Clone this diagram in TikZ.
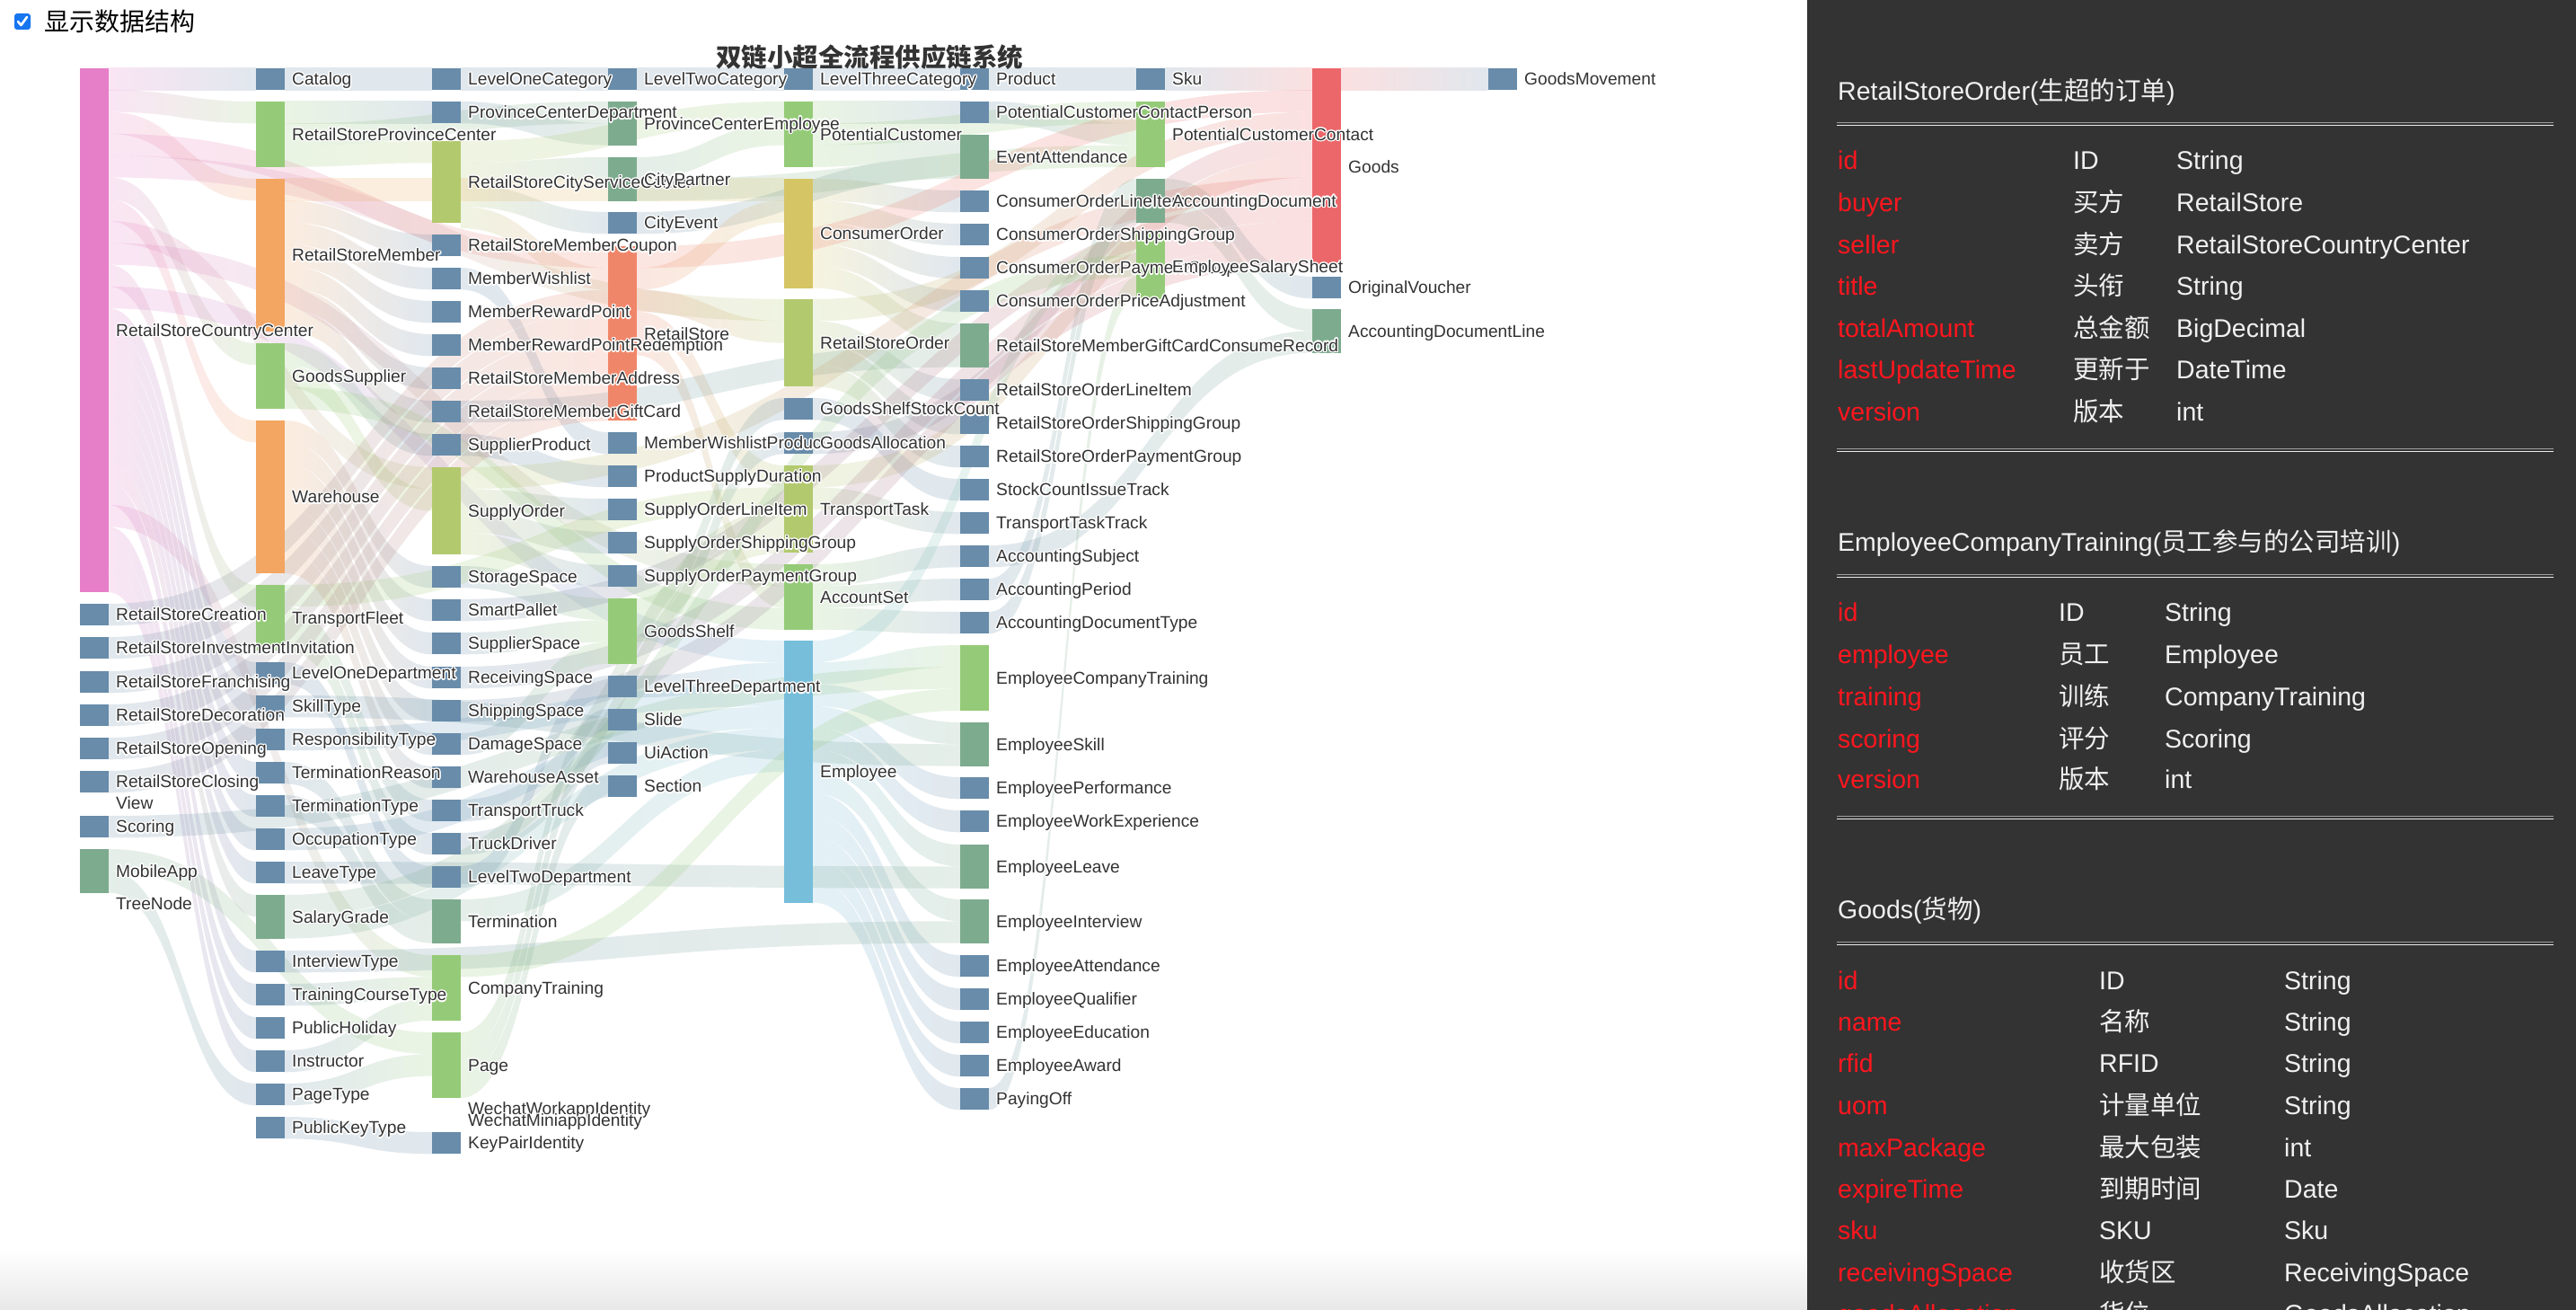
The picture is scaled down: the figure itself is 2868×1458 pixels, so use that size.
\documentclass[tikz,border=0pt]{standalone}
\usepackage{fontspec}
\setmainfont{Liberation Sans}
\newfontfamily\cjk{Noto Sans CJK SC}
\usepackage{contour}
\contourlength{1.3pt}
\usetikzlibrary{calc}
\pgfdeclarelayer{bg}
\pgfdeclarelayer{flows}
\pgfdeclarelayer{front}
\pgfsetlayers{bg,flows,main,front}
\definecolor{nodeblue}{RGB}{104,140,170}
\definecolor{nodeteal}{RGB}{125,171,142}
\definecolor{nodegreen}{RGB}{149,203,120}
\definecolor{nodeolive}{RGB}{179,201,110}
\definecolor{nodeyellow}{RGB}{213,197,101}
\definecolor{nodeorange}{RGB}{243,165,98}
\definecolor{nodecoral}{RGB}{240,134,105}
\definecolor{nodered}{RGB}{236,103,106}
\definecolor{nodesky}{RGB}{118,190,218}
\definecolor{nodepink}{RGB}{230,126,200}
\definecolor{labtext}{RGB}{51,51,51}
\definecolor{panelbg}{RGB}{51,51,51}
\definecolor{fieldred}{RGB}{255,22,30}
\definecolor{paneltext}{RGB}{240,240,240}
\definecolor{checkblue}{RGB}{22,118,240}
\tikzset{
  % sankey boxes and labels
  entbox/.style   = {rectangle, anchor=north west, inner sep=0pt, outer sep=0pt,
                     minimum width=32pt, draw=none},
  entlab/.style   = {anchor=base west, inner sep=0pt, text=labtext,
                     font=\fontsize{19.2}{22}\selectfont},
  flowband/.style = {fill opacity=0.2, draw=none},
  % title and checkbox
  titlelab/.style = {anchor=base, inner sep=0pt, text=labtext,
                     font=\cjk\bfseries\fontsize{28.5}{30}\selectfont},
  checkbox/.style = {rectangle, rounded corners=3pt, fill=checkblue,
                     minimum size=18pt, inner sep=0pt},
  % data panel
  panelhead/.style = {anchor=base west, inner sep=0pt, text=paneltext,
                      font=\fontsize{28.5}{30}\selectfont},
  fieldname/.style = {anchor=base west, inner sep=0pt, text=fieldred,
                      font=\fontsize{28.5}{30}\selectfont},
  fieldinfo/.style = {anchor=base west, inner sep=0pt, text=paneltext,
                      font=\fontsize{28.5}{30}\selectfont},
}
% node colour by size
\newcommand\ucol[2]{\expandafter\def\csname ucol@#1\endcsname{#2}}
\ucol{1}{nodeblue}\ucol{2}{nodeteal}\ucol{3}{nodegreen}\ucol{4}{nodeolive}
\ucol{5}{nodeyellow}\ucol{7}{nodeorange}\ucol{8}{nodecoral}\ucol{9}{nodered}
\ucol{12}{nodesky}\ucol{24}{nodepink}
\def\flowu{24.3}
% \ent[height]{name}{x}{top}{units}{label}
\newcommand\ent[6][]{%
  \ifx\relax#1\relax\pgfmathsetmacro\enth{#5==1 ? 24 : #5*\flowu}\else\def\enth{#1}\fi
  \edef\entc{\csname ucol@#5\endcsname}%
  \node[entbox, fill=\entc, minimum height=\enth pt] (#2) at (#3,#4) {};
  \expandafter\xdef\csname fc@#2\endcsname{\entc}%
  \begin{pgfonlayer}{front}
    \node[entlab] (#2-l) at ([xshift=8pt,yshift=-6.9pt]#2.east) {\contour{white}{#6}};
  \end{pgfonlayer}%
}
% \flow{source}{target}
\newcommand\flow[2]{%
  \ifcsname fo@#1\endcsname\else\expandafter\xdef\csname fo@#1\endcsname{0}\fi
  \ifcsname fi@#2\endcsname\else\expandafter\xdef\csname fi@#2\endcsname{0}\fi
  \edef\fso{\csname fo@#1\endcsname}%
  \edef\fti{\csname fi@#2\endcsname}%
  \edef\fcs{\csname fc@#1\endcsname}%
  \edef\fct{\csname fc@#2\endcsname}%
  \path ($(#1.north east)+(0,\fso)$) coordinate (fa)
        ($(#2.north west)+(0,\fti)$) coordinate (fb)
        ($(fa)+(0,\flowu)$) coordinate (fd)
        ($(fb)+(0,\flowu)$) coordinate (fc)
        ($(fa)!.5!(fb)$) coordinate (fm);
  \shade[flowband, left color=\fcs, right color=\fct]
    (fa) .. controls (fm |- fa) and (fm |- fb) .. (fb)
    -- (fc) .. controls (fm |- fc) and (fm |- fd) .. (fd) -- cycle;
  \pgfmathsetmacro\fnew{\fso+\flowu}%
  \expandafter\xdef\csname fo@#1\endcsname{\fnew}%
  \pgfmathsetmacro\fnew{\fti+\flowu}%
  \expandafter\xdef\csname fi@#2\endcsname{\fnew}%
}
% \fieldrow{name}{baseline}{x2}{x3}{field}{label}{type}
\newcommand\fieldrow[7]{%
  \node[fieldname] (#1-f) at (2046,#2) {#5};
  \node[fieldinfo] (#1-z) at (#3,#2) {#6};
  \node[fieldinfo] (#1-t) at (#4,#2) {#7};
}

\begin{document}
\begin{tikzpicture}[x=1pt, y=-1pt]
  \useasboundingbox (0,0) rectangle (2868,1458);
  \begin{pgfonlayer}{bg}
    \fill[white] (0,0) rectangle (2868,1458);
    \shade[top color=white, bottom color=black!9] (0,1390) rectangle (2012,1458);
  \end{pgfonlayer}

  % checkbox and title
  \node[checkbox] (chk) at (25,24) {};
  \draw[white, line width=2.6pt, line cap=round, line join=round]
    ($(chk.center)+(-5,0)$) -- ($(chk.center)+(-1.5,4)$) -- ($(chk.center)+(5,-5)$);
  \node[anchor=base west, inner sep=0pt, font=\cjk\fontsize{28}{30}\selectfont] (showlab) at (49,35) {显示数据结构};
  \node[titlelab] (title) at (968,75) {双链小超全流程供应链系统};

  % column 0
  \ent{rscc}{89}{76}{24}{RetailStoreCountryCenter}
  \ent{rsCreation}{89}{672}{1}{RetailStoreCreation}
  \ent{rsInvest}{89}{709}{1}{RetailStoreInvestmentInvitation}
  \ent{rsFranch}{89}{747}{1}{RetailStoreFranchising}
  \ent{rsDecor}{89}{784}{1}{RetailStoreDecoration}
  \ent{rsOpen}{89}{821}{1}{RetailStoreOpening}
  \ent{rsClose}{89}{858}{1}{RetailStoreClosing}
  \ent{scoring}{89}{908}{1}{Scoring}
  \ent{mobileApp}{89}{945}{2}{MobileApp}
  \begin{pgfonlayer}{front}
    \node[entlab] (view) at (129,900.9) {\contour{white}{View}};
    \node[entlab] (treeNode) at (129,1012.9) {\contour{white}{TreeNode}};
  \end{pgfonlayer}

  % column 1
  \ent{catalog}{285}{76}{1}{Catalog}
  \ent{rspc}{285}{113}{3}{RetailStoreProvinceCenter}
  \ent{rsMember}{285}{199}{7}{RetailStoreMember}
  \ent{goodsSupplier}{285}{382}{3}{GoodsSupplier}
  \ent{warehouse}{285}{468}{7}{Warehouse}
  \ent{transportFleet}{285}{651}{3}{TransportFleet}
  \ent{lvl1Dept}{285}{737}{1}{LevelOneDepartment}
  \ent{skillType}{285}{774}{1}{SkillType}
  \ent{respType}{285}{811}{1}{ResponsibilityType}
  \ent{termReason}{285}{848}{1}{TerminationReason}
  \ent{termType}{285}{885}{1}{TerminationType}
  \ent{occType}{285}{922}{1}{OccupationType}
  \ent{leaveType}{285}{959}{1}{LeaveType}
  \ent{salaryGrade}{285}{996}{2}{SalaryGrade}
  \ent{interviewType}{285}{1058}{1}{InterviewType}
  \ent{courseType}{285}{1095}{1}{TrainingCourseType}
  \ent{publicHoliday}{285}{1132}{1}{PublicHoliday}
  \ent{instructor}{285}{1169}{1}{Instructor}
  \ent{pageType}{285}{1206}{1}{PageType}
  \ent{publicKeyType}{285}{1243}{1}{PublicKeyType}

  % column 2
  \ent{lvl1Cat}{481}{76}{1}{LevelOneCategory}
  \ent{pcDept}{481}{113}{1}{ProvinceCenterDepartment}
  \ent[91]{rscsc}{481}{157}{4}{RetailStoreCityServiceCenter}
  \ent{memberCoupon}{481}{261}{1}{RetailStoreMemberCoupon}
  \ent{memberWishlist}{481}{298}{1}{MemberWishlist}
  \ent{rewardPoint}{481}{335}{1}{MemberRewardPoint}
  \ent{rewardRedeem}{481}{372}{1}{MemberRewardPointRedemption}
  \ent{memberAddress}{481}{409}{1}{RetailStoreMemberAddress}
  \ent{memberGiftCard}{481}{446}{1}{RetailStoreMemberGiftCard}
  \ent{supplierProduct}{481}{483}{1}{SupplierProduct}
  \ent{supplyOrder}{481}{520}{4}{SupplyOrder}
  \ent{storageSpace}{481}{630}{1}{StorageSpace}
  \ent{smartPallet}{481}{667}{1}{SmartPallet}
  \ent{supplierSpace}{481}{704}{1}{SupplierSpace}
  \ent{receivingSpace}{481}{742}{1}{ReceivingSpace}
  \ent{shippingSpace}{481}{779}{1}{ShippingSpace}
  \ent{damageSpace}{481}{816}{1}{DamageSpace}
  \ent{warehouseAsset}{481}{853}{1}{WarehouseAsset}
  \ent{transportTruck}{481}{890}{1}{TransportTruck}
  \ent{truckDriver}{481}{927}{1}{TruckDriver}
  \ent{lvl2Dept}{481}{964}{1}{LevelTwoDepartment}
  \ent{termination}{481}{1001}{2}{Termination}
  \ent{companyTraining}{481}{1063}{3}{CompanyTraining}
  \ent{page}{481}{1149}{3}{Page}
  \begin{pgfonlayer}{front}
    \node[entlab] (wechatWork) at (521,1240.9) {\contour{white}{WechatWorkappIdentity}};
    \node[entlab] (wechatMini) at (521,1253.9) {\contour{white}{WechatMiniappIdentity}};
  \end{pgfonlayer}
  \ent{keyPair}{481}{1260}{1}{KeyPairIdentity}

  % column 3
  \ent{lvl2Cat}{677}{76}{1}{LevelTwoCategory}
  \ent{pcEmployee}{677}{113}{2}{ProvinceCenterEmployee}
  \ent{cityPartner}{677}{175}{2}{CityPartner}
  \ent{cityEvent}{677}{236}{1}{CityEvent}
  \ent{retailStore}{677}{274}{8}{RetailStore}
  \ent{wishlistProduct}{677}{481}{1}{MemberWishlistProduct}
  \ent{supplyDuration}{677}{518}{1}{ProductSupplyDuration}
  \ent{soLineItem}{677}{555}{1}{SupplyOrderLineItem}
  \ent{soShipping}{677}{592}{1}{SupplyOrderShippingGroup}
  \ent{soPayment}{677}{629}{1}{SupplyOrderPaymentGroup}
  \ent{goodsShelf}{677}{666}{3}{GoodsShelf}
  \ent{lvl3Dept}{677}{752}{1}{LevelThreeDepartment}
  \ent{slide}{677}{789}{1}{Slide}
  \ent{uiAction}{677}{826}{1}{UiAction}
  \ent{section}{677}{863}{1}{Section}

  % column 4
  \ent{lvl3Cat}{873}{76}{1}{LevelThreeCategory}
  \ent{potentialCustomer}{873}{113}{3}{PotentialCustomer}
  \ent{consumerOrder}{873}{199}{5}{ConsumerOrder}
  \ent{rsOrder}{873}{333}{4}{RetailStoreOrder}
  \ent{stockCount}{873}{443}{1}{GoodsShelfStockCount}
  \ent{goodsAllocation}{873}{481}{1}{GoodsAllocation}
  \ent{transportTask}{873}{518}{4}{TransportTask}
  \ent{accountSet}{873}{628}{3}{AccountSet}
  \ent{employee}{873}{713}{12}{Employee}

  % column 5
  \ent{product}{1069}{76}{1}{Product}
  \ent{contactPerson}{1069}{113}{1}{PotentialCustomerContactPerson}
  \ent{eventAttendance}{1069}{150}{2}{EventAttendance}
  \ent{coLineItem}{1069}{212}{1}{ConsumerOrderLineItem}
  \ent{coShipping}{1069}{249}{1}{ConsumerOrderShippingGroup}
  \ent{coPayment}{1069}{286}{1}{ConsumerOrderPaymentGroup}
  \ent{coPriceAdj}{1069}{323}{1}{ConsumerOrderPriceAdjustment}
  \ent{giftCardRecord}{1069}{360}{2}{RetailStoreMemberGiftCardConsumeRecord}
  \ent{rsoLineItem}{1069}{422}{1}{RetailStoreOrderLineItem}
  \ent{rsoShipping}{1069}{459}{1}{RetailStoreOrderShippingGroup}
  \ent{rsoPayment}{1069}{496}{1}{RetailStoreOrderPaymentGroup}
  \ent{issueTrack}{1069}{533}{1}{StockCountIssueTrack}
  \ent{taskTrack}{1069}{570}{1}{TransportTaskTrack}
  \ent{accSubject}{1069}{607}{1}{AccountingSubject}
  \ent{accPeriod}{1069}{644}{1}{AccountingPeriod}
  \ent{accDocType}{1069}{681}{1}{AccountingDocumentType}
  \ent{empTraining}{1069}{718}{3}{EmployeeCompanyTraining}
  \ent{empSkill}{1069}{804}{2}{EmployeeSkill}
  \ent{empPerformance}{1069}{865}{1}{EmployeePerformance}
  \ent{empWorkExp}{1069}{902}{1}{EmployeeWorkExperience}
  \ent{empLeave}{1069}{940}{2}{EmployeeLeave}
  \ent{empInterview}{1069}{1001}{2}{EmployeeInterview}
  \ent{empAttendance}{1069}{1063}{1}{EmployeeAttendance}
  \ent{empQualifier}{1069}{1100}{1}{EmployeeQualifier}
  \ent{empEducation}{1069}{1137}{1}{EmployeeEducation}
  \ent{empAward}{1069}{1174}{1}{EmployeeAward}
  \ent{payingOff}{1069}{1211}{1}{PayingOff}

  % columns 6 to 8
  \ent{sku}{1265}{76}{1}{Sku}
  \ent{pcContact}{1265}{113}{3}{PotentialCustomerContact}
  \ent{accDocument}{1265}{199}{2}{AccountingDocument}
  \ent{salarySheet}{1265}{260}{3}{EmployeeSalarySheet}
  \ent{goods}{1461}{76}{9}{Goods}
  \ent{originalVoucher}{1461}{308}{1}{OriginalVoucher}
  \ent{accDocLine}{1461}{344}{2}{AccountingDocumentLine}
  \ent{goodsMovement}{1657}{76}{1}{GoodsMovement}

  % flows, ordered by source position
  \begin{pgfonlayer}{flows}
    \foreach \t in {catalog,rspc,rsMember,retailStore,rsOrder,goodsSupplier,warehouse,supplyOrder,accountSet,transportFleet,employee,lvl1Dept,skillType,respType,termReason,termType,occType,leaveType,salaryGrade,interviewType,companyTraining,courseType,publicHoliday,instructor}
      {\flow{rscc}{\t}}
    \flow{catalog}{lvl1Cat}
    \flow{lvl1Cat}{lvl2Cat}
    \flow{lvl2Cat}{lvl3Cat}
    \flow{lvl3Cat}{product}
    \flow{product}{sku}
    \flow{sku}{goods}
    \flow{goods}{goodsMovement}
    \foreach \t in {pcDept,pcEmployee,rscsc} {\flow{rspc}{\t}}
    \flow{pcDept}{pcEmployee}
    \foreach \t in {contactPerson,pcContact,eventAttendance} {\flow{potentialCustomer}{\t}}
    \flow{contactPerson}{pcContact}
    \foreach \t in {potentialCustomer,cityPartner,cityEvent,retailStore} {\flow{rscsc}{\t}}
    \foreach \t in {potentialCustomer,pcContact} {\flow{cityPartner}{\t}}
    \foreach \t in {consumerOrder,memberCoupon,memberWishlist,rewardPoint,rewardRedeem,memberAddress,memberGiftCard}
      {\flow{rsMember}{\t}}
    \foreach \t in {coLineItem,coShipping,coPayment,coPriceAdj,giftCardRecord} {\flow{consumerOrder}{\t}}
    \foreach \t in {originalVoucher,accDocLine} {\flow{accDocument}{\t}}
    \flow{cityEvent}{eventAttendance}
    \foreach \t in {goods,consumerOrder,rsOrder,transportTask,accountSet} {\flow{retailStore}{\t}}
    \flow{memberWishlist}{wishlistProduct}
    \foreach \t in {goods,rsoLineItem,rsoShipping,rsoPayment} {\flow{rsOrder}{\t}}
    \foreach \t in {supplierProduct,supplyOrder,accountSet} {\flow{goodsSupplier}{\t}}
    \flow{stockCount}{issueTrack}
    \flow{memberGiftCard}{giftCardRecord}
    \foreach \t in {storageSpace,smartPallet,supplierSpace,receivingSpace,shippingSpace,damageSpace,warehouseAsset}
      {\flow{warehouse}{\t}}
    \flow{goodsAllocation}{goods}
    \flow{supplierProduct}{supplyDuration}
    \foreach \t in {goods,taskTrack} {\flow{transportTask}{\t}}
    \foreach \t in {goods,soLineItem,soShipping,soPayment} {\flow{supplyOrder}{\t}}
    \flow{accSubject}{accDocLine}
    \foreach \t in {accSubject,accPeriod,accDocType} {\flow{accountSet}{\t}}
    \flow{storageSpace}{goodsShelf}
    \flow{accPeriod}{accDocument}
    \foreach \t in {transportTask,transportTruck,truckDriver} {\flow{transportFleet}{\t}}
    \foreach \t in {stockCount,goodsAllocation} {\flow{goodsShelf}{\t}}
    \flow{smartPallet}{goods}
    \flow{rsCreation}{retailStore}
    \flow{accDocType}{accDocument}
    \flow{supplierSpace}{goodsShelf}
    \flow{rsInvest}{retailStore}
    \foreach \t in {salarySheet,empTraining,empSkill,empPerformance,empWorkExp,empLeave,empInterview,empAttendance,empQualifier,empEducation,empAward,payingOff}
      {\flow{employee}{\t}}
    \flow{lvl1Dept}{lvl2Dept}
    \flow{receivingSpace}{goods}
    \flow{rsFranch}{retailStore}
    \flow{lvl3Dept}{employee}
    \flow{skillType}{empSkill}
    \flow{shippingSpace}{goods}
    \flow{rsDecor}{retailStore}
    \flow{respType}{employee}
    \flow{damageSpace}{goodsShelf}
    \flow{rsOpen}{retailStore}
    \flow{termReason}{termination}
    \flow{rsClose}{retailStore}
    \flow{termType}{termination}
    \flow{transportTruck}{transportTask}
    \flow{scoring}{empTraining}
    \flow{occType}{employee}
    \flow{truckDriver}{transportTask}
    \foreach \t in {page,pageType} {\flow{mobileApp}{\t}}
    \flow{leaveType}{empLeave}
    \flow{lvl2Dept}{lvl3Dept}
    \foreach \t in {salarySheet,employee} {\flow{salaryGrade}{\t}}
    \flow{termination}{employee}
    \flow{interviewType}{empInterview}
    \flow{companyTraining}{empTraining}
    \flow{courseType}{companyTraining}
    \foreach \t in {slide,uiAction,section} {\flow{page}{\t}}
    \flow{instructor}{companyTraining}
    \flow{pageType}{page}
    \flow{payingOff}{salarySheet}
    \flow{publicKeyType}{keyPair}
  \end{pgfonlayer}

  % data structure panel
  \fill[panelbg] (2012,0) rectangle (2868,1458);
  \node[panelhead] (headOrder) at (2046,112) {RetailStoreOrder({\cjk 生超的订单})};
  \draw[gray!75] (2045,136) -- (2843,136);
  \draw[white!92!black] (2045,139) -- (2843,139);
  \fieldrow{ro1}{189}{2308}{2423}{id}{ID}{String}
  \fieldrow{ro2}{236}{2308}{2423}{buyer}{\cjk 买方}{RetailStore}
  \fieldrow{ro3}{282}{2308}{2423}{seller}{\cjk 卖方}{RetailStoreCountryCenter}
  \fieldrow{ro4}{328}{2308}{2423}{title}{\cjk 头衔}{String}
  \fieldrow{ro5}{375}{2308}{2423}{totalAmount}{\cjk 总金额}{BigDecimal}
  \fieldrow{ro6}{421}{2308}{2423}{lastUpdateTime}{\cjk 更新于}{DateTime}
  \fieldrow{ro7}{468}{2308}{2423}{version}{\cjk 版本}{int}
  \draw[gray!75] (2045,499) -- (2843,499);
  \draw[white!92!black] (2045,502) -- (2843,502);

  \node[panelhead] (headTraining) at (2046,613) {EmployeeCompanyTraining({\cjk 员工参与的公司培训})};
  \draw[gray!75] (2045,639) -- (2843,639);
  \draw[white!92!black] (2045,642) -- (2843,642);
  \fieldrow{ct1}{691}{2292}{2410}{id}{ID}{String}
  \fieldrow{ct2}{738}{2292}{2410}{employee}{\cjk 员工}{Employee}
  \fieldrow{ct3}{785}{2292}{2410}{training}{\cjk 训练}{CompanyTraining}
  \fieldrow{ct4}{832}{2292}{2410}{scoring}{\cjk 评分}{Scoring}
  \fieldrow{ct5}{877}{2292}{2410}{version}{\cjk 版本}{int}
  \draw[gray!75] (2045,908) -- (2843,908);
  \draw[white!92!black] (2045,911) -- (2843,911);

  \node[panelhead] (headGoods) at (2046,1022) {Goods({\cjk 货物})};
  \draw[gray!75] (2045,1048) -- (2843,1048);
  \draw[white!92!black] (2045,1051) -- (2843,1051);
  \fieldrow{gd1}{1101}{2337}{2543}{id}{ID}{String}
  \fieldrow{gd2}{1147}{2337}{2543}{name}{\cjk 名称}{String}
  \fieldrow{gd3}{1193}{2337}{2543}{rfid}{RFID}{String}
  \fieldrow{gd4}{1240}{2337}{2543}{uom}{\cjk 计量单位}{String}
  \fieldrow{gd5}{1287}{2337}{2543}{maxPackage}{\cjk 最大包装}{int}
  \fieldrow{gd6}{1333}{2337}{2543}{expireTime}{\cjk 到期时间}{Date}
  \fieldrow{gd7}{1379}{2337}{2543}{sku}{SKU}{Sku}
  \fieldrow{gd8}{1426}{2337}{2543}{receivingSpace}{\cjk 收货区}{ReceivingSpace}
  \fieldrow{gd9}{1472}{2337}{2543}{goodsAllocation}{\cjk 货位}{GoodsAllocation}
\end{tikzpicture}
\end{document}
